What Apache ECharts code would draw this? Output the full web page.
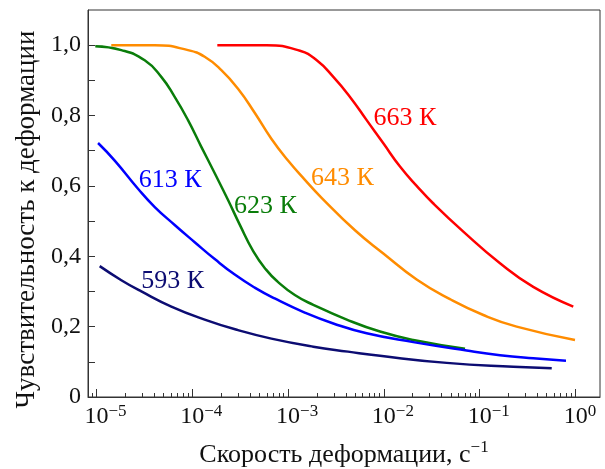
<!DOCTYPE html>
<html>
<head>
<meta charset="utf-8">
<script src="https://cdn.jsdelivr.net/npm/echarts@6/dist/echarts.min.js"></script>
<style>
  html, body { margin: 0; padding: 0; background: #fff; }
  #chart { width: 605px; height: 469px; }
</style>
</head>
<body>
<div id="chart"></div>
<script>
    // lg скорости деформации (с^-1) и чувствительность для каждой температуры
    const lg663 = [-3.739, -3.223, -2.876, -2.701, -2.528, -2.354, -2.180, -2.006, -1.832, -1.658, -1.484, -1.171, -0.788, -0.441, -0.023]
    const m663  = [1.0, 1.0, 0.984, 0.957, 0.910, 0.853, 0.787, 0.721, 0.655, 0.600, 0.550, 0.470, 0.380, 0.313, 0.257]

    const lg643 = [-4.846, -4.392, -4.045, -3.871, -3.697, -3.523, -3.349, -3.175, -3.001, -2.827, -2.653, -2.302, -2.006, -1.658, -1.310, -0.962, -0.614, -0.005]
    const m643  = [1.0, 1.0, 0.986, 0.967, 0.929, 0.876, 0.808, 0.734, 0.672, 0.618, 0.567, 0.474, 0.408, 0.334, 0.278, 0.233, 0.200, 0.162]

    const lg623 = [-5.013, -4.741, -4.497, -4.324, -4.184, -4.045, -3.906, -3.766, -3.627, -3.505, -3.363, -3.230, -3.110, -2.930, -2.737, -2.388, -2.041, -1.693, -1.153]
    const m623  = [0.997, 0.986, 0.957, 0.910, 0.853, 0.787, 0.711, 0.636, 0.560, 0.490, 0.414, 0.362, 0.328, 0.290, 0.262, 0.220, 0.186, 0.162, 0.137]

    const lg613 = [-4.984, -4.810, -4.567, -4.392, -4.184, -3.975, -3.766, -3.557, -3.349, -3.140, -2.827, -2.528, -2.180, -1.693, -1.136, -0.788, -0.441, -0.099]
    const m613  = [0.722, 0.672, 0.592, 0.540, 0.489, 0.440, 0.392, 0.348, 0.311, 0.280, 0.240, 0.209, 0.181, 0.156, 0.132, 0.119, 0.110, 0.103]

    const lg593 = [-4.967, -4.741, -4.532, -4.219, -3.871, -3.523, -3.175, -2.737, -2.375, -2.041, -1.344, -0.649, -0.248]
    const m593  = [0.372, 0.332, 0.300, 0.257, 0.220, 0.190, 0.166, 0.143, 0.129, 0.117, 0.097, 0.086, 0.082]

    // подписи кривых: [lg, m]
    const labels = [
        { text: '663 К', at: [-1.780, 0.793], color: '#ff0000' },
        { text: '643 К', at: [-2.432, 0.621], color: '#ff8c00' },
        { text: '623 К', at: [-3.238, 0.541], color: '#0a7d0a' },
        { text: '613 К', at: [-4.230, 0.617], color: '#0000ff' },
        { text: '593 К', at: [-4.205, 0.330], color: '#0c0c72' }
    ]

    const decades = [-5, -4, -3, -2, -1, 0]
    const yLabels = [0, 0.2, 0.4, 0.6, 0.8, 1.0]
    const yTicks  = [0.1, 0.2, 0.3, 0.4, 0.5, 0.6, 0.7, 0.8, 0.9, 1.0]

    const xMin = -5.089, xMax = 0.256
    let minorTicks = []
    for (let d = -6; d < 0; d++) {
        for (let k = 2; k <= 9; k++) {
            let v = d + Math.log10(k)
            if (v > xMin && v < xMax) minorTicks.push(v)
        }
    }

    const font = '"Liberation Serif", "Times New Roman", serif'
    const axisColor = '#333'

    let pairs = (xs, ys) => xs.map((x, i) => [x, ys[i]])
    let line = (xs, ys, color) => ({
        type: 'line',
        data: pairs(xs, ys),
        smooth: 0.5,
        symbol: 'none',
        lineStyle: { color, width: 2.5 },
        itemStyle: { color }
    })

    let series = [
        line(lg663, m663, labels[0].color),
        line(lg643, m643, labels[1].color),
        line(lg623, m623, labels[2].color),
        line(lg613, m613, labels[3].color),
        line(lg593, m593, labels[4].color)
    ]
    series.forEach((s, i) => {
        let l = labels[i]
        s.markPoint = {
            symbol: 'circle', symbolSize: 0, silent: true,
            data: [{ coord: l.at }],
            label: { show: true, position: 'inside', formatter: l.text, color: l.color, fontSize: 26, fontFamily: font }
        }
    })

    let chart = echarts.init(document.getElementById('chart'))
    chart.setOption({
        animation: false,
        grid: {
            left: 88, right: 5, top: 10, bottom: 72,
            outerBoundsMode: 'none',
            show: true, borderColor: axisColor, borderWidth: 1, backgroundColor: 'transparent'
        },
        xAxis: [
            {
                type: 'value', min: xMin, max: xMax,
                name: '{a|Скорость деформации, с}{s|−1}',
                nameLocation: 'middle', nameGap: 42,
                nameTextStyle: {
                    rich: {
                        a: { fontSize: 26, fontFamily: font, color: '#111', lineHeight: 32 },
                        s: { fontSize: 17, fontFamily: font, color: '#111', verticalAlign: 'top', lineHeight: 17 }
                    }
                },
                axisLine: { show: true, onZero: false, lineStyle: { color: axisColor } },
                splitLine: { show: false },
                axisTick: { inside: true, length: 8, customValues: decades, lineStyle: { color: axisColor } },
                axisLabel: {
                    customValues: decades, margin: 6,
                    formatter: v => {
                        let e = Math.round(v)
                        return e < 0 ? `{p|}{b|10}{s|−${-e}}` : `{q|}{b|10}{s|${e}}`
                    },
                    rich: {
                        p: { width: 18 },
                        q: { width: 9 },
                        b: { fontSize: 24, fontFamily: font, color: '#111', lineHeight: 28 },
                        s: { fontSize: 17, fontFamily: font, color: '#111', verticalAlign: 'top', lineHeight: 17 }
                    }
                }
            },
            {
                type: 'value', min: xMin, max: xMax, position: 'bottom',
                axisLine: { show: false, onZero: false },
                splitLine: { show: false },
                axisTick: { inside: true, length: 4, customValues: minorTicks, lineStyle: { color: axisColor } },
                axisLabel: { show: false }
            }
        ],
        yAxis: {
            type: 'value', min: 0, max: 1.1,
            name: 'Чувствительность к деформации',
            nameLocation: 'middle', nameGap: 48, nameRotate: 90,
            nameTextStyle: { fontSize: 27, fontFamily: font, color: '#111', padding: [0, 32, 0, 0] },
            axisLine: { show: true, onZero: false, lineStyle: { color: axisColor } },
            splitLine: { show: false },
            axisTick: { inside: true, length: 7, customValues: yTicks, lineStyle: { color: axisColor } },
            axisLabel: {
                customValues: yLabels, margin: 7,
                fontSize: 24, fontFamily: font, color: '#111',
                formatter: v => v === 0 ? '0' : v.toFixed(1).replace('.', ',')
            }
        },
        series
    })
</script>
</body>
</html>
